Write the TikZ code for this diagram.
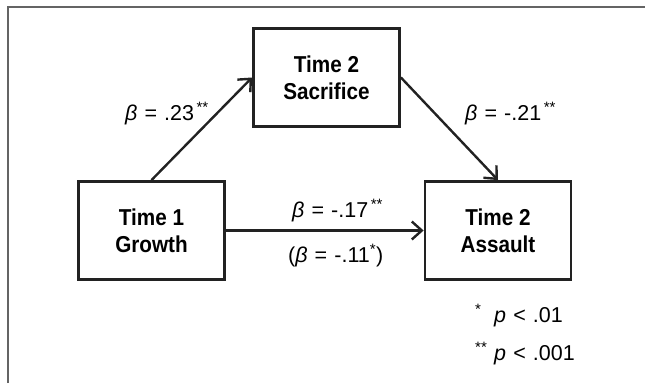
\documentclass[tikz,border=0pt]{standalone}
\usepackage{fontspec}
\setmainfont{Liberation Sans}
\newfontfamily\boxfont[FakeStretch=0.9]{Liberation Sans}
\usetikzlibrary{positioning, arrows.meta}
\usepackage{xcolor}
\definecolor{boxblack}{HTML}{222222}
\definecolor{framegray}{HTML}{646464}
\newcommand{\sep}{\hspace{0.33em}}

\tikzset{
  varbox/.style={draw=boxblack, line width=2.8pt, minimum width=146pt, minimum height=98pt,
    align=center, inner sep=0pt, font=\boxfont\bfseries\fontsize{23}{27}\selectfont},
  patharrow/.style={draw=boxblack, line width=2.4pt, -{Straight Barb[length=10pt, width=18pt, line width=2.4pt]}},
  betalabel/.style={anchor=base west, inner sep=0pt, font=\fontsize{21.5}{24}\selectfont}
}

\begin{document}
\begin{tikzpicture}[x=1pt, y=-1pt]
    \useasboundingbox (0,0) rectangle (645,383);
    \draw[framegray, line width=2pt] (8,383) -- (8,7) -- (645,7);

    \node[varbox] (sacrifice) at (326.5,77.5) {Time 2\\Sacrifice};
    \node[varbox] (growth) at (151.5,230.5) {Time 1\\Growth};
    \node[varbox] (assault) at (498,230.5) {Time 2\\Assault};

    \draw[patharrow] (growth.north) -- (sacrifice.west);
    \draw[patharrow] (sacrifice.east) -- (assault.north);
    \draw[patharrow] (growth.east) -- (assault.west);

    \node[betalabel] (b1) at (125,120) {\textit{β}\sep=\sep.23\textsuperscript{\,**}};
    \node[betalabel] (b2) at (465,120) {\textit{β}\sep=\sep-.21\textsuperscript{\,**}};
    \node[betalabel] (b3) at (292,217) {\textit{β}\sep=\sep-.17\textsuperscript{\,**}};
    \node[betalabel] (b4) at (288,262) {(\textit{β}\sep=\sep-.11\textsuperscript{*})};
    \node[betalabel] (p1) at (475,322) {\makebox[19pt][l]{\textsuperscript{*}}\textit{p}\sep<\sep.01};
    \node[betalabel] (p2) at (475,360) {\makebox[19pt][l]{\textsuperscript{**}}\textit{p}\sep<\sep.001};
\end{tikzpicture}
\end{document}
